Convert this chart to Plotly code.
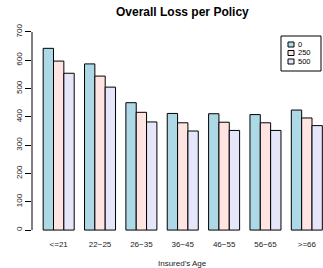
import plotly.graph_objects as go

categories = ["<=21", "22\u221225", "26\u221235", "36\u221245", "46\u221255", "56\u221265", ">=66"]
series_names = ["0", "250", "500"]
values_0 = [642, 587, 450, 412, 411, 408, 424]
values_250 = [597, 544, 416, 379, 381, 379, 396]
values_500 = [554, 505, 382, 350, 352, 352, 369]
colors = ["#ADD8E6", "#FFE4E1", "#E6E6FA"]
y_ticks = [0, 100, 200, 300, 400, 500, 600, 700]

W, H = 323, 268
L, R, T, B = 32, 0, 24, 30
PW, PH = W - L - R, H - T - B

def px_x(p):
    return (p - L) / PW

def px_y(p):
    return (H - B - p) / PH

fig = go.Figure()
for name, vals, col in zip(series_names, [values_0, values_250, values_500], colors):
    fig.add_trace(go.Bar(x=list(range(len(categories))), y=vals, name=name,
                         marker=dict(color=col, line=dict(color="black", width=1)),
                         showlegend=False))

font = "Liberation Sans, Arial, sans-serif"
fig.update_layout(
    width=W, height=H, margin=dict(l=L, r=R, t=T, b=B),
    paper_bgcolor="white", plot_bgcolor="white",
    barmode="group", bargap=0.25, bargroupgap=0,
    font=dict(family=font, size=8, color="black"),
    xaxis=dict(range=[-0.645, 6.391], tickmode="array", tickvals=list(range(len(categories))),
               ticktext=categories, showline=False, showgrid=False, zeroline=False,
               ticks="", tickfont=dict(size=8, color="#222")),
    yaxis=dict(range=[-28, 728], tickvals=y_ticks, showline=False, showgrid=False,
               zeroline=False, ticks="outside", ticklen=6, tickcolor="black",
               tickangle=-90, tickfont=dict(size=8, color="#222")),
)

# y axis line from first to last tick
fig.add_shape(type="line", xref="paper", yref="y", x0=0, x1=0, y0=y_ticks[0], y1=y_ticks[-1],
              line=dict(color="black", width=1))

# title and x title
fig.add_annotation(text="<b>Overall Loss per Policy</b>", xref="x", yref="paper", x=3, y=px_y(12),
                   showarrow=False, font=dict(size=12, family=font, color="black"), yanchor="middle")
fig.add_annotation(text="Insured's Age", xref="x", yref="paper", x=3, y=px_y(263),
                   showarrow=False, font=dict(size=8, family=font, color="#222"), yanchor="middle")

# legend box
fig.add_shape(type="rect", xref="paper", yref="paper", x0=px_x(281), x1=px_x(321),
              y0=px_y(71), y1=px_y(36), line=dict(color="black", width=1), fillcolor="white")
rows = [44.5, 53, 61.5]
for name, col, ry in zip(series_names, colors, rows):
    fig.add_shape(type="rect", xref="paper", yref="paper", x0=px_x(288), x1=px_x(294),
                  y0=px_y(ry + 2.5), y1=px_y(ry - 2.5), line=dict(color="black", width=1),
                  fillcolor=col)
    fig.add_annotation(text=name, xref="paper", yref="paper", x=px_x(297), y=px_y(ry),
                       xanchor="left", yanchor="middle", showarrow=False, borderpad=0,
                       font=dict(size=7.5, family=font, color="black"))

fig.write_html("out.html", config={"displayModeBar": False},
               post_script="document.body.style.margin='0';document.body.style.overflow='hidden';")
